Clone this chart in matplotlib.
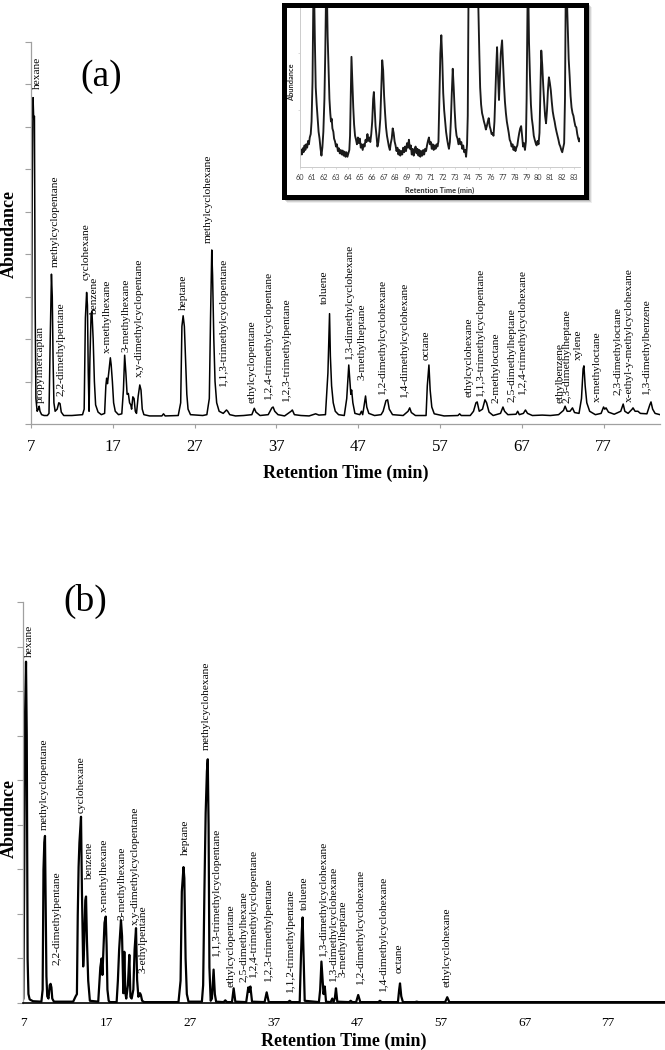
import matplotlib
matplotlib.use('Agg')
import matplotlib.pyplot as plt
from matplotlib.patches import Rectangle

W, H = 665, 1050
plt.rcParams['font.family'] = ['Liberation Serif', 'DejaVu Serif']

# ---- panel (a): retention time (min) / abundance (tick units) ----
a_time = [6.95, 7.05, 7.15, 7.25, 7.33, 7.42, 7.5, 7.6, 7.75, 7.9, 8.0, 8.1, 8.3, 8.6, 9.0, 9.2,
          9.35, 9.5, 9.6, 9.7, 9.8, 9.95, 10.2, 10.4, 10.55, 10.7, 11.0, 12.0, 13.3, 13.5, 13.65,
          13.8, 13.9, 14.0, 14.1, 14.2, 14.35, 14.45, 14.6, 14.75, 14.9, 15.2, 15.6, 16.0, 16.15,
          16.25, 16.35, 16.5, 16.7, 16.8, 16.95, 17.1, 17.3, 17.7, 18.1, 18.3, 18.45, 18.6, 18.75,
          18.9, 19.05, 19.2, 19.3, 19.45, 19.6, 19.75, 19.9, 20.1, 20.3, 20.45, 20.6, 20.8, 21.5,
          23.0, 23.2, 23.4, 25.0, 25.3, 25.45, 25.6, 25.75, 25.9, 26.05, 26.2, 26.5, 28.0, 28.5,
          28.8, 28.95, 29.1, 29.2, 29.35, 29.5, 29.7, 30.0, 30.5, 30.9, 31.05, 31.3, 32.0, 33.0,
          34.0, 34.3, 34.5, 35.0, 36.0, 36.45, 36.6, 36.8, 37.2, 38.0, 38.8, 38.95, 39.2, 40.0,
          41.0, 41.8, 42.2, 43.0, 43.3, 43.5, 43.6, 43.75, 43.95, 44.2, 44.6, 45.3, 45.6, 45.85,
          45.95, 46.1, 46.2, 46.35, 46.6, 47.2, 47.4, 47.55, 47.7, 47.9, 48.05, 48.3, 49.0, 49.8,
          50.05, 50.4, 50.6, 50.8, 51.2, 52.5, 53.1, 53.3, 53.5, 54.0, 55.3, 55.45, 55.65, 55.8,
          56.0, 56.3, 57.5, 59.2, 59.4, 59.6, 60.7, 61.1, 61.4, 61.55, 61.8, 62.2, 62.5, 62.7,
          63.0, 63.5, 64.4, 64.7, 64.9, 65.3, 66.3, 66.5, 66.7, 67.2, 67.45, 67.7, 68.3, 69.5,
          70.5, 71.5, 72.1, 72.3, 72.55, 72.9, 73.2, 73.45, 74.0, 74.3, 74.5, 74.6, 74.75, 74.95,
          75.3, 76.0, 76.7, 77.0, 77.15, 77.3, 77.6, 78.3, 79.1, 79.4, 79.6, 80.0, 80.5, 80.6,
          80.85, 81.2, 81.5, 82.3, 82.65, 82.8, 83.0, 83.3, 83.9]
a_abund = [0.25, 1.0, 5.5, 7.69, 7.2, 7.25, 3.0, 0.6, 0.3, 0.35, 0.42, 0.3, 0.22, 0.2, 0.2, 0.25,
           2.0, 3.53, 3.0, 1.5, 0.5, 0.3, 0.35, 0.5, 0.48, 0.28, 0.2, 0.2, 0.22, 0.35, 2.5,
           3.1, 2.8, 1.2, 0.3, 1.5, 2.6, 2.65, 2.0, 1.0, 0.45, 0.28, 0.22, 0.25, 0.9,
           1.08, 0.95, 1.2, 1.56, 1.4, 1.0, 0.5, 0.3, 0.22, 0.24, 0.8, 1.62, 1.2, 0.7,
           0.72, 0.5, 0.45, 0.35, 0.64, 0.6, 0.3, 0.25, 0.65, 0.92, 0.8, 0.35, 0.22, 0.19,
           0.19, 0.24, 0.19, 0.2, 0.5, 2.3, 2.55, 2.3, 1.5, 0.7, 0.35, 0.22, 0.2, 0.22,
           0.6, 2.5, 4.1, 3.5, 2.0, 1.0, 0.5, 0.3, 0.25, 0.33, 0.3, 0.22, 0.19, 0.2,
           0.22, 0.37, 0.28, 0.2, 0.22, 0.38, 0.4, 0.3, 0.22, 0.19, 0.3, 0.33, 0.22, 0.2,
           0.19, 0.24, 0.21, 0.22, 1.2, 2.6, 1.6, 0.9, 0.5, 0.3, 0.22, 0.2, 0.6, 1.39,
           1.1, 0.7, 0.8, 0.5, 0.25, 0.22, 0.3, 0.22, 0.4, 0.66, 0.4, 0.25, 0.2, 0.22,
           0.3, 0.55, 0.57, 0.35, 0.22, 0.2, 0.3, 0.38, 0.27, 0.2, 0.2, 0.9, 1.39, 0.8,
           0.4, 0.24, 0.19, 0.2, 0.24, 0.2, 0.2, 0.3, 0.5, 0.52, 0.3, 0.35, 0.57, 0.5,
           0.28, 0.2, 0.25, 0.4, 0.3, 0.22, 0.23, 0.3, 0.22, 0.25, 0.33, 0.25, 0.2, 0.21,
           0.2, 0.22, 0.32, 0.42, 0.3, 0.3, 0.38, 0.27, 0.25, 0.6, 1.3, 1.37, 0.9, 0.5,
           0.3, 0.22, 0.25, 0.4, 0.35, 0.38, 0.28, 0.23, 0.3, 0.47, 0.3, 0.25, 0.35, 0.38,
           0.3, 0.3, 0.25, 0.24, 0.45, 0.52, 0.35, 0.25, 0.22]

a_names = ['hexane', 'propylmercaptan', 'methylcyclopentane', '2,2-dimethylpentane', 'cyclohexane',
           'benzene', 'x-methylhexane', '3-methylhexane', 'x,y-dimethylcyclopentane', 'heptane',
           'methylcyclohexane', '1,1,3-trimethylcyclopentane', 'ethylcyclopentane',
           '1,2,4-trimethylcyclopentane', '1,2,3-trimethylpentane', 'toluene',
           '1,3-dimethylcyclohexane', '3-methylheptane', '1,2-dimethylcyclohexane',
           '1,4-dimethylcyclohexane', 'octane', 'ethylcyclohexane', '1,1,3-trimethylcyclopentane',
           '2-methyloctane', '2,5-dimethylheptane', '1,2,4-trimethylcyclohexane', 'ethylbenzene',
           '2,3-dimethylheptane', 'xylene', 'x-methyloctane', '2,3-dimethyloctane',
           'x-ethyl-y-methylcyclohexane', '1,3-dimethylbenzene']
a_name_t = [7.82, 8.1, 9.93, 10.67, 13.72, 14.82, 16.29, 18.61, 20.2, 25.58, 28.64, 30.59, 34.02,
            36.1, 38.3, 42.82, 46.0, 47.46, 50.03, 52.72, 55.29, 60.54, 62.01, 63.85, 65.8,
            67.15, 71.67, 72.53, 73.87, 76.19, 78.76, 80.1, 82.3]
a_name_y = [7.89, 0.49, 3.70, 0.66, 3.39, 2.57, 1.67, 1.70, 1.11, 2.69, 4.26, 0.87, 0.49, 0.57,
            0.52, 2.83, 1.51, 1.04, 0.68, 0.61, 1.51, 0.64, 0.64, 0.49, 0.52, 0.68, 0.49, 0.49,
            1.51, 0.52, 0.68, 0.52, 0.68]

# ---- inset of (a): 60-83.5 min, noisy trace ----
ins_time = [60.00, 60.08, 60.15, 60.23, 60.30, 60.38, 60.45, 60.52, 60.60, 60.68, 60.75, 60.82,
            60.90, 60.97, 61.05, 61.15, 61.25, 61.32, 61.40, 61.48, 61.56, 61.64, 61.72, 61.80,
            61.88, 61.96, 62.05, 62.12, 62.22, 62.32, 62.40, 62.47, 62.54, 62.60, 62.66, 62.72,
            62.80, 62.86, 62.94, 63.02, 63.10, 63.18, 63.26, 63.34, 63.42, 63.50, 63.58, 63.66,
            63.74, 63.82, 63.90, 63.98, 64.06, 64.14, 64.20, 64.26, 64.32, 64.40, 64.47, 64.54,
            64.62, 64.70, 64.78, 64.86, 64.94, 65.02, 65.10, 65.18, 65.26, 65.34, 65.42, 65.50,
            65.58, 65.66, 65.74, 65.82, 65.90, 65.98, 66.06, 66.14, 66.20, 66.27, 66.34, 66.42,
            66.50, 66.58, 66.66, 66.74, 66.82, 66.90, 66.98, 67.06, 67.14, 67.22, 67.30, 67.38,
            67.46, 67.54, 67.62, 67.70, 67.78, 67.86, 67.94, 68.02, 68.10, 68.18, 68.26, 68.34,
            68.42, 68.50, 68.58, 68.66, 68.74, 68.82, 68.90, 68.98, 69.06, 69.14, 69.22, 69.30,
            69.38, 69.46, 69.54, 69.62, 69.70, 69.78, 69.86, 69.94, 70.02, 70.10, 70.18, 70.26,
            70.34, 70.42, 70.50, 70.58, 70.66, 70.74, 70.82, 70.90, 70.98, 71.06, 71.14, 71.22,
            71.30, 71.38, 71.46, 71.54, 71.62, 71.70, 71.78, 71.86, 71.94, 72.02, 72.10, 72.18,
            72.26, 72.34, 72.42, 72.50, 72.58, 72.66, 72.74, 72.82, 72.90, 72.98, 73.06, 73.14,
            73.22, 73.30, 73.38, 73.46, 73.54, 73.62, 73.70, 73.78, 73.86, 73.94, 74.02, 74.08,
            74.16, 74.95, 75.05, 75.12, 75.20, 75.28, 75.36, 75.44, 75.52, 75.60, 75.68, 75.76,
            75.84, 75.92, 76.00, 76.08, 76.16, 76.24, 76.32, 76.40, 76.47, 76.54, 76.62, 76.70,
            76.78, 76.85, 76.96, 77.04, 77.12, 77.20, 77.28, 77.36, 77.44, 77.52, 77.60, 77.68,
            77.76, 77.84, 77.92, 78.00, 78.08, 78.16, 78.24, 78.32, 78.40, 78.48, 78.56, 78.64,
            78.72, 78.80, 78.88, 78.96, 79.02, 79.08, 79.13, 79.22, 79.30, 79.38, 79.46, 79.54,
            79.62, 79.70, 79.78, 79.86, 79.94, 80.02, 80.10, 80.18, 80.25, 80.33, 80.41, 80.49,
            80.57, 80.65, 80.73, 80.81, 80.89, 80.97, 81.05, 81.13, 81.21, 81.29, 81.37, 81.45,
            81.53, 81.61, 81.69, 81.77, 81.85, 81.93, 82.01, 82.09, 82.17, 82.24, 82.32, 82.45,
            82.55, 82.63, 82.71, 82.79, 82.87, 82.95, 83.03, 83.11, 83.19, 83.27, 83.35, 83.43,
            83.48]
ins_abund = [0.20, 0.30, 0.22, 0.33, 0.26, 0.38, 0.30, 0.40, 0.34, 0.46, 0.40, 0.52,
             0.58, 0.80, 1.5, 3.6, 2.2, 1.4, 1.1, 0.85, 0.62, 0.50, 0.33, 0.20,
             0.35, 0.62, 1.2, 2.0, 3.6, 2.3, 1.7, 1.2, 0.95, 0.80, 0.85, 0.68,
             0.62, 0.50, 0.45, 0.36, 0.40, 0.28, 0.33, 0.24, 0.30, 0.22, 0.29, 0.20,
             0.27, 0.18, 0.26, 0.18, 0.24, 0.30, 0.55, 1.3, 1.94, 1.45, 1.05, 0.75,
             0.55, 0.48, 0.40, 0.52, 0.42, 0.50, 0.34, 0.40, 0.30, 0.40, 0.36, 0.48,
             0.44, 0.58, 0.46, 0.52, 0.44, 0.58, 0.80, 1.20, 1.32, 1.0, 0.72, 0.55,
             0.36, 0.44, 0.62, 0.85, 1.35, 1.88, 1.70, 1.25, 0.95, 0.70, 0.55, 0.45,
             0.36, 0.30, 0.42, 0.50, 0.68, 0.60, 0.45, 0.38, 0.28, 0.34, 0.22, 0.30,
             0.20, 0.28, 0.22, 0.34, 0.26, 0.36, 0.28, 0.42, 0.34, 0.48, 0.32, 0.38,
             0.22, 0.32, 0.20, 0.30, 0.36, 0.24, 0.32, 0.20, 0.30, 0.18, 0.28, 0.20,
             0.30, 0.22, 0.32, 0.28, 0.38, 0.46, 0.52, 0.40, 0.44, 0.32, 0.40, 0.30,
             0.38, 0.32, 0.40, 0.36, 0.45, 1.2, 2.0, 2.32, 1.9, 1.3, 1.0, 0.8,
             0.62, 0.50, 0.40, 0.32, 0.44, 0.80, 1.3, 1.73, 1.40, 1.0, 0.70, 0.55,
             0.50, 0.40, 0.50, 0.40, 0.44, 0.32, 0.38, 0.26, 0.30, 0.18, 0.40, 0.9,
             3.6, 3.0, 2.0, 1.4, 1.1, 0.95, 0.88, 0.80, 0.74, 0.66, 0.72, 0.80,
             0.86, 0.72, 0.66, 0.58, 0.60, 0.55, 0.80, 1.30, 1.75, 2.11, 1.6, 1.18,
             1.6, 2.0, 2.23, 1.85, 1.45, 1.15, 0.95, 0.80, 0.70, 0.60, 0.48, 0.44,
             0.36, 0.40, 0.30, 0.36, 0.28, 0.34, 0.38, 0.50, 0.60, 0.68, 0.72, 0.55,
             0.36, 0.42, 0.30, 0.45, 1.2, 2.5, 3.6, 2.2, 1.6, 1.1, 0.85, 0.72,
             0.55, 0.48, 0.42, 0.38, 0.46, 0.40, 0.6, 1.4, 2.05, 1.8, 1.45, 1.15,
             0.90, 0.77, 1.0, 1.35, 1.58, 1.48, 1.35, 1.15, 0.98, 0.88, 0.80, 0.70,
             0.62, 0.55, 0.48, 0.40, 0.36, 0.30, 0.26, 0.34, 0.42, 1.2, 3.6, 2.6,
             1.9, 1.6, 1.25, 1.05, 0.95, 0.90, 0.80, 0.72, 0.70, 0.58, 0.50, 0.45,
             0.50]
ins_ticks = list(range(60, 84))

# ---- panel (b) ----
b_time = [6.9, 7.05, 7.15, 7.25, 7.36, 7.45, 7.55, 7.65, 7.8, 8.2, 9.2, 9.35, 9.45, 9.55, 9.63,
          9.72, 9.8, 9.9, 10.05, 10.2, 10.3, 10.4, 10.5, 10.7, 13.0, 13.3, 13.45, 13.55, 13.65,
          13.75, 13.94, 14.05, 14.2, 14.3, 14.45, 14.54, 14.65, 14.8, 15.0, 16.0, 16.25, 16.4,
          16.5, 16.62, 16.75, 16.9, 17.0, 17.1, 17.25, 17.4, 18.2, 18.35, 18.5, 18.72, 18.85,
          19.0, 19.12, 19.25, 19.35, 19.55, 19.72, 19.85, 20.0, 20.2, 20.35, 20.52, 20.65, 20.8,
          21.0, 21.1, 21.25, 21.5, 25.6, 25.85, 26.0, 26.2, 26.3, 26.45, 26.6, 26.8, 28.4, 28.55,
          28.7, 28.85, 29.0, 29.1, 29.2, 29.3, 29.45, 29.6, 29.8, 29.95, 30.1, 31.0, 31.2, 31.4,
          32.0, 32.2, 32.4, 33.7, 33.95, 34.08, 34.2, 34.4, 35.9, 36.15, 36.4, 38.7, 38.9, 39.1,
          40.1, 40.25, 40.35, 40.45, 40.55, 40.7, 42.4, 42.55, 42.7, 42.85, 42.95, 43.1, 43.25,
          43.8, 44.0, 44.15, 44.3, 44.44, 44.6, 46.0, 46.2, 46.4, 46.85, 47.1, 47.35, 49.5, 49.7,
          49.9, 51.85, 52.0, 52.1, 52.25, 52.45, 53.9, 54.1, 54.3, 57.5, 57.75, 58.0, 83.8]
b_abund = [0.02, 0.1, 3.0, 6.5, 7.66, 6.0, 1.0, 0.2, 0.08, 0.04, 0.03, 0.3, 3.0, 3.6, 3.75,
           2.0, 0.6, 0.15, 0.1, 0.4, 0.43, 0.35, 0.1, 0.03, 0.03, 0.15, 0.2, 1.97, 3.05,
           3.6, 4.18, 2.5, 0.82, 1.2, 2.3, 2.39, 1.4, 0.5, 0.05, 0.03, 0.8, 1.0,
           0.63, 1.2, 1.8, 1.94, 1.3, 0.3, 0.05, 0.02, 0.02, 0.5, 1.2, 1.86, 1.5,
           0.22, 1.15, 0.22, 0.1, 0.4, 1.08, 0.14, 0.1, 0.3, 1.2, 1.68, 0.52, 0.14,
           0.22, 0.18, 0.05, 0.02, 0.02, 0.5, 2.5, 3.05, 2.8, 1.0, 0.2, 0.03, 0.03, 0.4,
           2.5, 4.26, 5.2, 5.47, 4.0, 0.8, 0.05, 0.1, 0.75, 0.2, 0.03, 0.02, 0.06, 0.02,
           0.02, 0.33, 0.03, 0.02, 0.35, 0.25, 0.37, 0.03, 0.02, 0.24, 0.02, 0.02, 0.05, 0.02,
           0.02, 1.04, 1.6, 1.92, 1.2, 0.05, 0.02, 0.3, 0.93, 0.5, 0.2, 0.37, 0.03,
           0.02, 0.1, 0.02, 0.1, 0.33, 0.03, 0.02, 0.05, 0.02, 0.02, 0.18, 0.02, 0.02, 0.05,
           0.02, 0.02, 0.3, 0.44, 0.15, 0.02, 0.02, 0.03, 0.02, 0.02, 0.13, 0.02, 0.02]

b_names = ['hexane', 'methylcyclopentane', '2,2-dimethylpentane', 'cyclohexane', 'benzene',
           'x-methylhexane', '3-methylhexane', 'x,y-dimethylcyclopentane', '3-ethylpentane',
           'heptane', 'methylcyclohexane', '1,1,3-trimethylcyclopentane', 'ethylcyclopentane',
           '2,5-dimethylhexane', '1,2,4-trimethylcyclopentane', '1,2,3-trimethylpentane',
           '1,1,2-trimethylpentane', 'toluene', '1,3-dimethylcyclohexane',
           '1,3-dimethylcyclohexane', '3-methylheptane', '1,2-dimethylcyclohexane',
           '1,4-dimethylcyclohexane', 'octane', 'ethylcyclohexane']
b_name_t = [7.75, 9.55, 11.1, 13.94, 14.93, 16.73, 18.81, 20.4, 21.39, 26.38, 28.97, 30.17,
            31.88, 33.44, 34.55, 36.34, 39.02, 40.61, 42.92, 44.2, 45.31, 47.43, 50.1, 51.98,
            57.68]
b_name_y = [7.77, 3.88, 0.85, 4.26, 2.76, 2.05, 1.86, 1.75, 0.67, 3.32, 5.68, 1.04, 0.37, 0.48,
            0.55, 0.48, 0.22, 2.09, 1.04, 0.47, 0.59, 0.40, 0.25, 0.67, 0.37]

x_ticks = [7, 17, 27, 37, 47, 57, 67, 77]


def box(x0, y0, x1, y1):
    # pixel box (top-left origin) -> figure rect
    return [x0 / W, 1 - y1 / H, (x1 - x0) / W, (y1 - y0) / H]


fig = plt.figure(figsize=(W / 100, H / 100), dpi=100)

# ---------------- (a) ----------------
ax1 = fig.add_axes(box(31, 42, 660, 424))
ax1.plot(a_time, a_abund, color='black', lw=1.1)
ax1.set_xlim(7, 83.9)
ax1.set_ylim(0, 9)
for s in ['top', 'right']:
    ax1.spines[s].set_visible(False)
for s in ['left', 'bottom']:
    ax1.spines[s].set_color('#a0a0a0')
    ax1.spines[s].set_linewidth(0.9)
ax1.set_yticks(range(10))
ax1.set_yticklabels([])
ax1.set_xticks(x_ticks)
ax1.tick_params(axis='y', direction='out', length=4.5, width=0.8, color='#a0a0a0')
ax1.tick_params(axis='x', direction='out', length=3, width=0.8, color='#a0a0a0',
                labelsize=12, pad=8)
for n, t, y in zip(a_names, a_name_t, a_name_y):
    ax1.text(t, y, n, rotation=90, ha='center', va='bottom', fontsize=8.2)

fig.text(101 / W, 1 - 77 / H, '(a)', fontsize=27, ha='center', va='center')
fig.text(9 / W, 1 - 234 / H, 'Abundance', fontsize=13, fontweight='bold', rotation=90,
         ha='center', va='center')
fig.text(346 / W, 1 - 473 / H, 'Retention Time (min)', fontsize=13, fontweight='bold',
         ha='center', va='center')

# ---------------- inset ----------------
for k, a in enumerate([0.10, 0.18, 0.28]):
    d = 4 - k
    fig.patches.append(Rectangle(((283 + d) / W, 1 - (199 + d) / H), 305 / W, 196 / H,
                                 transform=fig.transFigure, facecolor='#606060', alpha=a,
                                 edgecolor='none', zorder=2))
frame = fig.add_axes(box(283.5, 4.5, 585.5, 196.5))
frame.set_xticks([])
frame.set_yticks([])
frame.set_facecolor('white')
for s in frame.spines.values():
    s.set_linewidth(3.6)
    s.set_color('black')
frame.set_zorder(3)

ins = fig.add_axes(box(300, 8, 580, 167))
ins.set_zorder(4)
ins.patch.set_alpha(0)
ins.plot(ins_time, ins_abund, color='#1a1a1a', lw=1.35)
ins.set_xlim(60, 83.5)
ins.set_ylim(0, 2.8)
for s in ['top', 'right']:
    ins.spines[s].set_visible(False)
for s in ['left', 'bottom']:
    ins.spines[s].set_color('#cccccc')
    ins.spines[s].set_linewidth(0.7)
ins.set_xticks(ins_ticks)
ins.set_xticklabels([str(v) for v in ins_ticks], family=['Lato', 'DejaVu Sans'],
                    fontsize=5.3, color='#404040')
ins.set_yticks([1, 2])
ins.set_yticklabels([])
ins.tick_params(axis='both', length=1.5, width=0.5, color='#cccccc', pad=3.5)
fig.text(440 / W, 1 - 190 / H, 'Retention Time (min)', family=['Lato', 'DejaVu Sans'],
         fontsize=5.3, fontweight='bold', color='#303030', ha='center', va='center', zorder=5)
fig.text(292 / W, 1 - 82 / H, 'Abundance', family=['Lato', 'DejaVu Sans'], fontsize=5.3,
         fontweight='bold', color='#303030', rotation=90, ha='center', va='center', zorder=5)

# ---------------- (b) ----------------
ax2 = fig.add_axes(box(23, 602, 665, 1003))
ax2.plot(b_time, b_abund, color='black', lw=1.6)
ax2.set_xlim(7, 83.8)
ax2.set_ylim(0, 9)
for s in ['top', 'right']:
    ax2.spines[s].set_visible(False)
ax2.spines['left'].set_color('#a0a0a0')
ax2.spines['left'].set_linewidth(0.9)
ax2.spines['bottom'].set_color('black')
ax2.spines['bottom'].set_linewidth(1.2)
ax2.set_yticks(range(10))
ax2.set_yticklabels([])
ax2.set_xticks(x_ticks)
ax2.tick_params(axis='y', direction='out', length=4.5, width=0.8, color='#a0a0a0')
ax2.tick_params(axis='x', length=0, labelsize=9.5, pad=10)
for n, t, y in zip(b_names, b_name_t, b_name_y):
    ax2.text(t, y, n, rotation=90, ha='center', va='bottom', fontsize=8.2)

fig.text(85 / W, 1 - 601 / H, '(b)', fontsize=27, ha='center', va='center')
fig.text(9 / W, 1 - 819 / H, 'Abundnce', fontsize=13, fontweight='bold', rotation=90,
         ha='center', va='center')
fig.text(344 / W, 1 - 1041 / H, 'Retention Time (min)', fontsize=13, fontweight='bold',
         ha='center', va='center')

fig.savefig('out.png', dpi=100)
